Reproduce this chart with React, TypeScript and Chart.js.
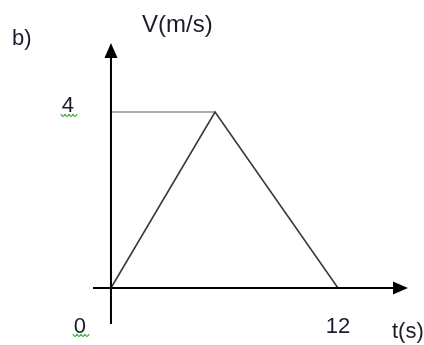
import React, { useEffect, useRef } from "react";
import { Chart, registerables } from "chart.js";

Chart.register(...registerables);

// Data
const timeValues = [0, 5.5, 12];
const velocityValues = [0, 4, 0];
const plateauTime = [0, 5.5];
const plateauVelocity = [4, 4];
const xTickLabels = ["0", "12"];
const xTickValues = [0, 12];
const yTickLabels = ["4"];
const yTickValues = [4];
const yAxisTitle = "V(m/s)";
const xAxisTitle = "t(s)";
const panelLabel = "b)";

const FONT = "22px 'Liberation Sans', Arial, sans-serif";
const TITLE_FONT = "24px 'Liberation Sans', Arial, sans-serif";
const TEXT_COLOR = "#1c1c2a";

function squiggle(ctx: CanvasRenderingContext2D, x0: number, x1: number, y: number) {
  ctx.save();
  ctx.strokeStyle = "#46b246";
  ctx.lineWidth = 1.3;
  ctx.beginPath();
  const step = 4;
  for (let x = x0; x < x1; x += step) {
    ctx.moveTo(x, y);
    ctx.quadraticCurveTo(x + step / 2, y + 5, x + step, y);
  }
  ctx.stroke();
  ctx.restore();
}

const axesPlugin = {
  id: "axesPlugin",
  afterDraw(chart: any) {
    const ctx: CanvasRenderingContext2D = chart.ctx;
    const area = chart.chartArea;
    const xs = chart.scales.x;
    const ys = chart.scales.y;
    const x0 = xs.getPixelForValue(0);
    const y0 = ys.getPixelForValue(0);
    ctx.save();
    // axes
    ctx.strokeStyle = "#000";
    ctx.lineWidth = 2;
    ctx.beginPath();
    ctx.moveTo(area.left, y0);
    ctx.lineTo(area.right - 12, y0);
    ctx.moveTo(x0, area.bottom);
    ctx.lineTo(x0, area.top + 12);
    ctx.stroke();
    ctx.fillStyle = "#000";
    // x arrow
    ctx.beginPath();
    ctx.moveTo(area.right, y0);
    ctx.lineTo(area.right - 15, y0 - 6.5);
    ctx.lineTo(area.right - 15, y0 + 6.5);
    ctx.closePath();
    ctx.fill();
    // y arrow
    ctx.beginPath();
    ctx.moveTo(x0, area.top);
    ctx.lineTo(x0 - 6.5, area.top + 15);
    ctx.lineTo(x0 + 6.5, area.top + 15);
    ctx.closePath();
    ctx.fill();

    // texts
    ctx.font = FONT;
    ctx.fillStyle = TEXT_COLOR;
    ctx.textBaseline = "alphabetic";
    yTickValues.forEach((v, i) => {
      const py = ys.getPixelForValue(v);
      ctx.textAlign = "right";
      ctx.fillText(yTickLabels[i], x0 - 37, py);
      squiggle(ctx, x0 - 50, x0 - 36, py + 2);
    });
    xTickValues.forEach((v, i) => {
      const px = xs.getPixelForValue(v);
      ctx.textAlign = "center";
      if (v === 0) {
        ctx.fillText(xTickLabels[i], px - 31, y0 + 45);
        squiggle(ctx, px - 38, px - 24, y0 + 46);
      } else {
        ctx.fillText(xTickLabels[i], px, y0 + 45);
      }
    });
    ctx.textAlign = "left";
    ctx.fillText(xAxisTitle, area.right - 16, y0 + 50);
    ctx.fillText(panelLabel, 12, 45);
    ctx.font = TITLE_FONT;
    ctx.fillText(yAxisTitle, x0 + 31, 32);
    ctx.restore();
  },
};

export default function App() {
  const ref = useRef<HTMLCanvasElement | null>(null);
  useEffect(() => {
    if (!ref.current) return;
    const chart = new Chart(ref.current, {
      type: "line",
      data: {
        datasets: [
          {
            data: timeValues.map((t, i) => ({ x: t, y: velocityValues[i] })),
            borderColor: "#3a3a3a",
            borderWidth: 1.6,
            pointRadius: 0,
            tension: 0,
          },
          {
            data: plateauTime.map((t, i) => ({ x: t, y: plateauVelocity[i] })),
            borderColor: "#5a5a5a",
            borderWidth: 1.2,
            pointRadius: 0,
            tension: 0,
          },
        ],
      },
      options: {
        animation: false,
        responsive: false,
        devicePixelRatio: 1,
        layout: { padding: { left: 93, right: 16, top: 43, bottom: 21 } },
        plugins: { legend: { display: false }, tooltip: { enabled: false } },
        scales: {
          x: { type: "linear", display: false, min: -0.95, max: 15.7 },
          y: { type: "linear", display: false, min: -0.818, max: 5.568 },
        },
      },
      plugins: [axesPlugin],
    });
    return () => chart.destroy();
  }, []);
  return (
    <div style={{ position: "fixed", left: 0, top: 0, width: 424, height: 345, background: "#fff" }}>
      <canvas ref={ref} width={424} height={345} />
    </div>
  );
}
